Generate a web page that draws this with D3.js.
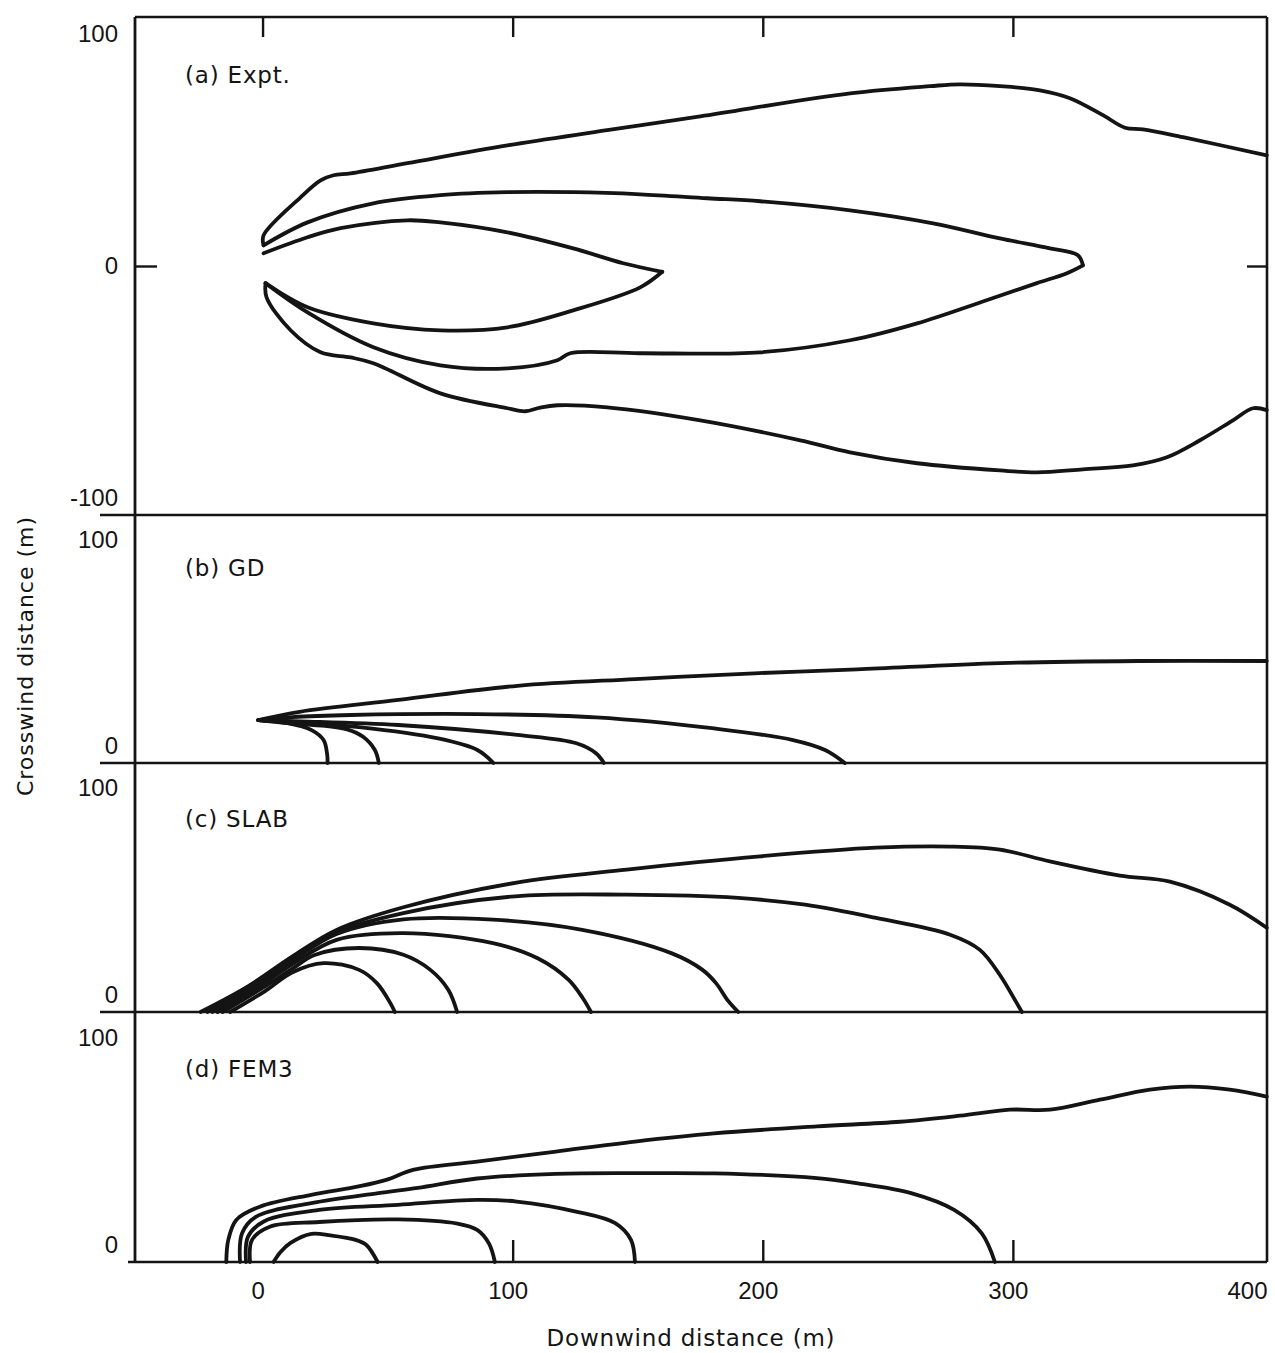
<!DOCTYPE html>
<html>
<head>
<meta charset="utf-8">
<script src="https://cdn.jsdelivr.net/npm/d3@7"></script>
<style>
  body { margin: 0; background: #fff; }
  svg { display: block; }
</style>
</head>
<body>
<script>
// Tick values and labels
const xTicks = [0, 100, 200, 300, 400];
const xTickMarksTop = [0, 100, 200, 300];
const xTickMarksBottom = [100, 200, 300];
const yTicksExpt = [100, 0, -100];
const yTicksModel = [100, 0];
const panelLabels = ["(a) Expt.", "(b) GD", "(c) SLAB", "(d) FEM3"];

// (a) Expt. contours, [downwind m, crosswind m]
const exptOuterUpper = [[401.5,47.7],[368,55.5],[352,58.9],[344.8,59.6],[336,65],[322.8,72.3],[310.8,75.7],[294.8,77.5],[278.9,78.3],[266.9,77.5],[234.9,74.4],[175,64.5],[137.8,58.5],[97.9,52.0],[57.9,44.3],[35.2,39.9],[28.4,39.1],[23.2,36.9],[15.2,29.6],[0.4,13.2],[0.4,8.9]];
const exptMidUpper = [[0.4,8.9],[18,18.8],[44.3,27],[71.1,30.5],[97.9,31.8],[124.2,31.8],[151,30.9],[177.8,29.2],[199,27.9],[234.9,24],[268.1,18.4],[294.8,11.9],[314.8,7.6],[326,4.6],[328,0.3]];
const exptMidLower = [[328,0.3],[321.6,-3.1],[309.6,-7.4],[288,-15.3],[261.7,-24.7],[234.9,-32],[199,-37.2],[151,-37.6],[123,-37.6],[117.9,-40.6],[97.9,-44.1],[71.1,-42.8],[44.3,-35],[18,-20],[1.2,-7.4]];
const exptInnerUpper = [[0.4,5.5],[18,12.4],[31.2,16.3],[57.9,19.7],[71.1,18.8],[97.9,14.5],[124.2,7.6],[144.2,1.2],[159.8,-2.5]];
const exptInnerLower = [[159.8,-2.5],[151,-9.2],[124.2,-19.1],[97.9,-26.4],[71.1,-27.7],[44.3,-24.7],[18,-17.8],[1.2,-7.4]];
const exptOuterLower = [[1.2,-7.4],[1.6,-13.5],[11.2,-27.7],[23.2,-37.2],[35.2,-39.4],[44.3,-41.9],[71.1,-54.9],[97.9,-61.3],[105,-62.6],[111,-61],[117.9,-60],[137.8,-60.9],[175,-66.5],[215,-75.1],[234.9,-80.3],[261.7,-85],[294.8,-88.1],[309.6,-88.9],[328,-87.6],[348,-85.9],[361.6,-82.4],[374.8,-75.1],[388,-66.5],[396,-61.3],[401.5,-62.1]];

// (b) GD contours
const gdOuter = [[-1.7,18.5],[14.8,22.1],[54.3,27.2],[101.9,33.3],[149,36.2],[196.6,38.7],[237.7,40.4],[294.8,43.1],[350,44],[401.5,44]];
const gd1 = [[-1.7,18.5],[12,19.8],[35.4,20.7],[85.9,21.1],[133.3,19.7],[180.6,14.9],[212.1,9.9],[224.9,5.6],[232.8,0]];
const gd2 = [[-1.7,18.5],[15,18],[54.3,16.4],[101.8,12.1],[125.5,8.5],[133.3,4.2],[136.5,0]];
const gd3 = [[-1.7,18.5],[15,17.4],[38.6,15.5],[70.2,10.6],[85.9,5.6],[92.3,0]];
const gd4 = [[-1.7,18.5],[10,17.2],[25,16],[33.8,14.5],[40.2,11.3],[44.9,5.6],[46.5,0]];
const gd5 = [[-1.7,18.5],[10,17.2],[19.6,14.2],[24.4,9.9],[25.8,4],[26,0]];

// (c) SLAB contours
const slab1 = [[-24.8,0],[-6,10.9],[11.8,23.8],[29.6,35.3],[56.3,45],[101,55.5],[145.6,61.2],[199,66.9],[245.3,70.6],[274.9,71.1],[294.8,69.8],[314.8,64.7],[342.8,58.6],[362.8,56],[386.7,46.1],[401.5,36.2]];
const slab2 = [[-22,0],[-4.8,11.4],[11.8,23],[25.9,32.8],[56.3,42.5],[101,49.7],[145.6,50.4],[190.2,49],[216.9,46.1],[245.3,40.4],[274.9,33.2],[286.8,26.7],[294.8,15.9],[300.8,5.2],[303.6,0]];
const slab3 = [[-20,0],[-3.5,11],[11.8,22],[29.6,33.5],[56.3,39.8],[92.1,39.7],[127.8,35.3],[163.4,25.3],[175.9,18.1],[181.3,12.4],[186,5],[190.2,0]];
const slab4 = [[-18,0],[-2,10.5],[11.8,20.5],[29.6,31],[56.3,33.9],[92.1,29.6],[110,23.1],[122.4,13.8],[128,6],[131.3,0]];
const slab5 = [[-16,0],[-0.5,10],[11.8,18.5],[20.8,24.5],[38.6,27.5],[56.3,24.6],[67.1,18.1],[74.3,9.5],[77.8,0]];
const slab6 = [[-13,0],[1,9],[11.8,17],[24.4,21],[38.6,18.1],[45.7,12.4],[51.1,3.8],[52.9,0]];

// (d) FEM3 contours
const fem1 = [[-14.5,0],[-13.7,9.5],[-10.5,18.1],[-1.1,23.8],[19.5,28.9],[38.4,32.5],[49.5,35.3],[60.5,39.7],[85.8,43.2],[117.3,47.5],[148.9,51.8],[180.5,55.3],[221.6,58.3],[254.9,60.3],[278.9,62.9],[298.8,65.5],[314.8,65.5],[334.8,69.8],[354.8,74.1],[370.8,75.4],[386.7,74.1],[401.5,71.1]];
const fem2 = [[-9,0],[-8.2,12.4],[-2.7,19.4],[19.5,25.3],[46.3,29.6],[62.1,31.9],[85.8,35.9],[117.3,37.9],[150.2,38.2],[180.5,38.1],[221.6,36.1],[237.3,33.9],[259.3,29.6],[276.5,22.4],[287.5,12.4],[292.8,0]];
const fem3 = [[-6.6,0],[-5.8,10.9],[0.5,17.4],[22.6,22.4],[54.2,24.6],[85.8,26.7],[101.6,26],[125.3,21.7],[141,16.7],[147.3,9.5],[148.9,0]];
const fem4 = [[-5,0],[-4.2,9.5],[2.9,15.2],[22.6,17.2],[54.2,18.3],[77.9,16.5],[85.8,13.8],[90.5,8],[92.9,0]];
const fem5 = [[4.4,0],[7.2,4.3],[11.2,8.2],[19.5,12.1],[27.2,11.4],[37.2,9.5],[41.5,7.3],[46,0]];

const W = 1275, H = 1353;
const plotLeft = 135, plotRight = 1267;
const labelFont = "'DejaVu Sans', sans-serif";
const tickFont = "'Liberation Sans', Arial, sans-serif";

const x = d3.scaleLinear().domain([-51, 401.6]).range([plotLeft, plotRight]);

const panels = [
    { label: panelLabels[0], curves: [exptOuterUpper, exptMidUpper, exptMidLower, exptInnerUpper, exptInnerLower, exptOuterLower],
      domain: [-107.3, 107.3], top: 17, bottom: 515, ticks: yTicksExpt, labelY: 83 },
    { label: panelLabels[1], curves: [gdOuter, gd1, gd2, gd3, gd4, gd5],
      domain: [0, 107], top: 515, bottom: 763, ticks: yTicksModel, labelY: 576 },
    { label: panelLabels[2], curves: [slab1, slab2, slab3, slab4, slab5, slab6],
      domain: [0, 107], top: 763, bottom: 1012, ticks: yTicksModel, labelY: 827 },
    { label: panelLabels[3], curves: [fem1, fem2, fem3, fem4, fem5],
      domain: [0, 107.5], top: 1012, bottom: 1262, ticks: yTicksModel, labelY: 1077 }
];

const svg = d3.select("body").append("svg")
    .attr("width", W)
    .attr("height", H);

const ink = "#141414";

panels.forEach((p, i) => {
    const y = d3.scaleLinear().domain(p.domain).range([p.bottom, p.top]);
    const line = d3.line()
        .x(d => x(d[0]))
        .y(d => y(d[1]))
        .curve(d3.curveCatmullRom.alpha(0.5));

    const g = svg.append("g").attr("class", "panel");

    // contours
    g.selectAll("path.contour")
        .data(p.curves)
        .enter()
        .append("path")
        .attr("class", "contour")
        .attr("d", line)
        .attr("fill", "none")
        .attr("stroke", ink)
        .attr("stroke-width", 3.8)
        .attr("stroke-linejoin", "round")
        .attr("stroke-linecap", "round");

    // y tick labels (plain hyphen for negatives, as in the original)
    const yAxis = g.append("g")
        .attr("transform", `translate(${plotLeft},0)`)
        .call(d3.axisLeft(y).tickValues(p.ticks).tickSize(0).tickPadding(17).tickFormat(d => String(d)));
    yAxis.select(".domain").remove();
    yAxis.selectAll("text")
        .attr("font-family", tickFont)
        .attr("font-size", 24)
        .attr("fill", ink)
        .attr("dy", d => {
            if (i === 0) return "0.32em";
            // labels of the lower panels sit inside the panel
            return d === 0 ? "-0.38em" : "0.66em";
        });

    // panel label
    g.append("text")
        .attr("x", 185)
        .attr("y", p.labelY)
        .attr("font-family", labelFont)
        .attr("font-size", 23)
        .attr("letter-spacing", 0.8)
        .attr("fill", ink)
        .text(p.label);

    // separator (bottom edge of the panel)
    g.append("line")
        .attr("x1", i === panels.length - 1 ? plotLeft - 7 : 100)
        .attr("x2", plotRight)
        .attr("y1", p.bottom)
        .attr("y2", p.bottom)
        .attr("stroke", ink)
        .attr("stroke-width", 2.6);

    if (i === 0) {
        // inward ticks at zero crosswind
        const l0 = g.append("g").attr("transform", `translate(${plotLeft},0)`)
            .call(d3.axisLeft(y).tickValues([0]).tickSize(-22).tickFormat(""));
        l0.select(".domain").remove();
        const r0 = g.append("g").attr("transform", `translate(${plotRight},0)`)
            .call(d3.axisRight(y).tickValues([0]).tickSize(-20).tickFormat(""));
        r0.select(".domain").remove();
        [l0, r0].forEach(a => a.selectAll("line").attr("stroke", ink).attr("stroke-width", 2.4));
    }
});

// frame: top, left, right
const frameTop = panels[0].top, frameBottom = panels[panels.length - 1].bottom;
svg.append("line").attr("x1", plotLeft).attr("x2", plotRight).attr("y1", frameTop).attr("y2", frameTop)
    .attr("stroke", ink).attr("stroke-width", 2.4);
svg.append("line").attr("x1", plotLeft).attr("x2", plotLeft).attr("y1", frameTop).attr("y2", frameBottom)
    .attr("stroke", ink).attr("stroke-width", 2.8);
svg.append("line").attr("x1", plotRight).attr("x2", plotRight).attr("y1", frameTop).attr("y2", frameBottom)
    .attr("stroke", ink).attr("stroke-width", 2.6);

// top ticks (inward)
const topTicks = svg.append("g").attr("transform", `translate(0,${frameTop})`)
    .call(d3.axisTop(x).tickValues(xTickMarksTop).tickSize(-20).tickFormat(""));
topTicks.select(".domain").remove();
topTicks.selectAll("line").attr("stroke", ink).attr("stroke-width", 2.4);

// bottom ticks (inward)
const botTicks = svg.append("g").attr("transform", `translate(0,${frameBottom})`)
    .call(d3.axisBottom(x).tickValues(xTickMarksBottom).tickSize(-22).tickFormat(""));
botTicks.select(".domain").remove();
botTicks.selectAll("line").attr("stroke", ink).attr("stroke-width", 2.4);

// bottom tick labels
const xAxis = svg.append("g").attr("transform", `translate(0,${frameBottom})`)
    .call(d3.axisBottom(x).tickValues(xTicks).tickSize(0).tickPadding(20).tickFormat(d => String(d)));
xAxis.select(".domain").remove();
xAxis.selectAll("text")
    .attr("font-family", tickFont)
    .attr("font-size", 24)
    .attr("fill", ink)
    .attr("dx", d => d === 400 ? 4 : -5)
    .attr("text-anchor", d => d === 400 ? "end" : "middle");

// axis titles
svg.append("text")
    .attr("x", (plotLeft + plotRight) / 2 - 10)
    .attr("y", 1346)
    .attr("text-anchor", "middle")
    .attr("font-family", labelFont)
    .attr("font-size", 23)
    .attr("letter-spacing", 0.8)
    .attr("fill", ink)
    .text("Downwind distance (m)");

svg.append("text")
    .attr("transform", "translate(33,656) rotate(-90)")
    .attr("text-anchor", "middle")
    .attr("font-family", labelFont)
    .attr("font-size", 22)
    .attr("letter-spacing", 1)
    .attr("fill", ink)
    .text("Crosswind distance (m)");
</script>
</body>
</html>
